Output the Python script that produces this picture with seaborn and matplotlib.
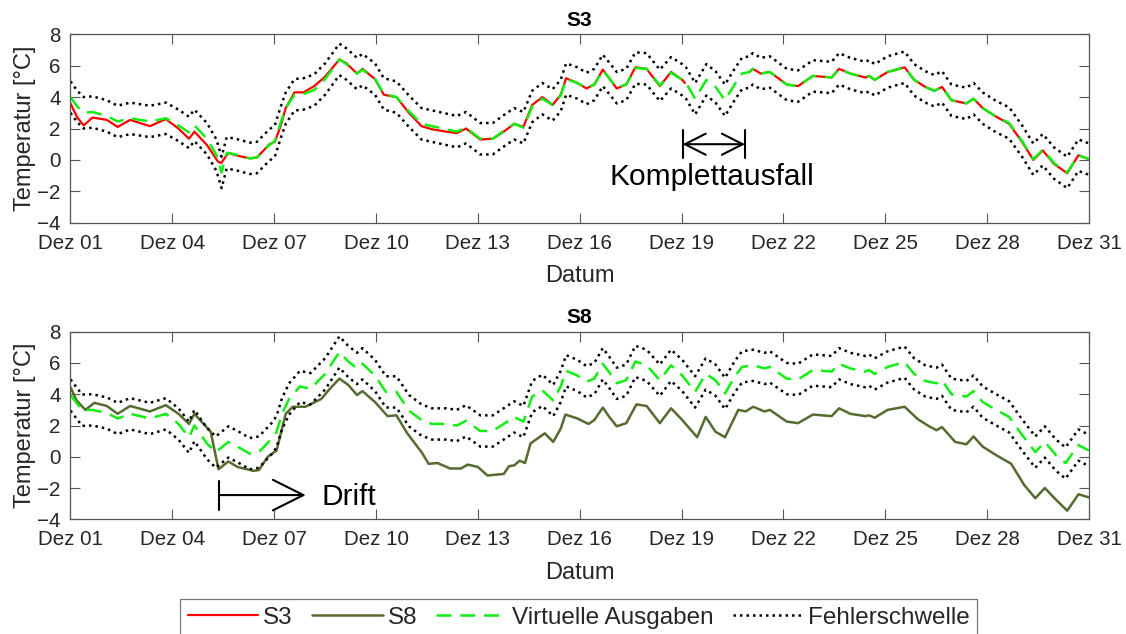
import numpy as np
import pandas as pd
import matplotlib
matplotlib.use("Agg")
import matplotlib.pyplot as plt
import matplotlib.dates as mdates
import seaborn as sns

# Tage im Dezember als Dezimalzahl (1.0 = Dez 01 00:00)
# S3 gemessen, Luecke = Komplettausfall
s3_tage_a = [1.0, 1.2, 1.39, 1.65, 2.07, 2.39, 2.76, 3.34, 3.81, 4.18, 4.49, 4.65, 5.02, 5.34,
             5.44, 5.65, 5.86, 6.28, 6.49, 6.86, 7.02, 7.18, 7.34, 7.6, 7.86, 8.18, 8.5, 8.92,
             9.13, 9.44, 9.6, 9.97, 10.23, 10.6, 10.97, 11.34, 11.65, 12.07, 12.38, 12.65, 13.07,
             13.44, 13.76, 14.07, 14.34, 14.6, 14.9, 15.2, 15.44, 15.6, 15.93, 16.2, 16.43, 16.68,
             16.87, 17.09, 17.37, 17.64, 17.97, 18.36, 18.69, 19.02, 19.1]
s3_werte_a = [3.6, 2.7, 2.2, 2.7, 2.55, 2.1, 2.55, 2.15, 2.6, 2.0, 1.35, 1.8, 0.95, -0.1,
              -0.2, 0.45, 0.3, 0.1, 0.15, 1.0, 1.15, 2.1, 3.3, 4.3, 4.3, 4.7, 5.3, 6.4,
              6.15, 5.5, 5.8, 5.15, 4.15, 4.0, 3.0, 2.15, 1.95, 1.8, 1.7, 2.0, 1.3,
              1.35, 1.8, 2.3, 2.1, 3.5, 4.0, 3.5, 4.15, 5.2, 4.9, 4.55, 4.8, 5.75,
              5.2, 4.55, 4.8, 5.9, 5.8, 4.7, 5.6, 5.1, 4.9]
s3_tage_b = [21.0, 21.1, 21.33, 21.6, 22.1, 22.43, 22.87, 23.42, 23.64, 23.97, 24.41, 24.52,
             24.69, 25.07, 25.57, 25.85, 26.18, 26.45, 26.67, 26.95, 27.39, 27.6, 27.87, 28.27,
             28.65, 29.03, 29.36, 29.64, 29.97, 30.36, 30.69, 31.0]
s3_werte_b = [5.6, 5.8, 5.5, 5.6, 4.8, 4.7, 5.35, 5.25, 5.8, 5.5, 5.25, 5.35,
              5.1, 5.6, 5.9, 5.1, 4.65, 4.4, 4.65, 3.8, 3.6, 3.9, 3.3, 2.75,
              2.3, 1.15, 0.0, 0.6, -0.25, -0.85, 0.3, 0.05]

# virtuelle Ausgabe fuer S3
virt_s3_tage = [1.0, 1.2, 1.39, 1.65, 2.07, 2.39, 2.76, 3.34, 3.81, 4.18, 4.49, 4.65, 5.02, 5.3,
                5.45, 5.6, 5.86, 6.28, 6.49, 6.86, 7.02, 7.18, 7.34, 7.6, 7.86, 8.18, 8.5, 8.92,
                9.13, 9.44, 9.6, 9.97, 10.23, 10.6, 10.97, 11.34, 11.65, 12.07, 12.38, 12.65,
                13.07, 13.44, 13.76, 14.07, 14.34, 14.6, 14.9, 15.2, 15.44, 15.6, 15.93, 16.2,
                16.43, 16.68, 16.87, 17.09, 17.37, 17.64, 17.97, 18.36, 18.69, 19.02, 19.13,
                19.4, 19.73, 20.0, 20.28, 20.56, 20.78, 21.0, 21.1, 21.33, 21.6, 22.1, 22.43,
                22.87, 23.42, 23.64, 23.97, 24.41, 24.52, 24.69, 25.07, 25.57, 25.85, 26.18,
                26.45, 26.67, 26.95, 27.39, 27.6, 27.87, 28.27, 28.65, 29.03, 29.36, 29.64,
                29.97, 30.36, 30.69, 31.0]
virt_s3_werte = [4.0, 3.4, 3.0, 3.05, 2.8, 2.45, 2.65, 2.45, 2.65, 2.2, 1.75, 2.2, 1.35, 0.3,
                 -0.8, 0.45, 0.35, 0.1, 0.15, 0.95, 1.2, 2.3, 3.3, 4.15, 4.2, 4.45, 5.15, 6.4,
                 6.1, 5.5, 5.75, 5.15, 4.2, 4.0, 3.1, 2.3, 2.15, 1.95, 1.8, 2.05,
                 1.35, 1.35, 1.85, 2.3, 2.05, 3.4, 3.9, 3.5, 4.1, 5.15, 4.9, 4.55,
                 4.8, 5.7, 5.2, 4.6, 4.8, 5.85, 5.8, 4.75, 5.55, 5.1, 4.9,
                 3.9, 5.1, 4.65, 3.8, 4.8, 5.5, 5.6, 5.8, 5.5, 5.6, 4.8, 4.7,
                 5.35, 5.25, 5.8, 5.5, 5.25, 5.35, 5.1, 5.6, 5.9, 5.1, 4.65,
                 4.4, 4.65, 3.8, 3.6, 3.9, 3.3, 2.75, 2.35, 1.2, 0.05, 0.65,
                 -0.2, -0.8, 0.3, 0.05]

# S8 gemessen (mit Drift)
s8_tage = [1.0, 1.18, 1.44, 1.7, 2.07, 2.39, 2.76, 3.34, 3.81, 4.18, 4.49, 4.65, 5.13, 5.36,
           5.65, 5.92, 6.39, 6.55, 6.81, 7.07, 7.34, 7.55, 7.92, 8.39, 8.6, 8.92, 9.18, 9.44,
           9.6, 9.97, 10.34, 10.6, 10.92, 11.34, 11.55, 11.81, 12.18, 12.5, 12.7, 13.0, 13.28,
           13.76, 13.92, 14.07, 14.23, 14.39, 14.55, 14.97, 15.22, 15.44, 15.58, 15.93, 16.26,
           16.43, 16.68, 16.87, 17.09, 17.37, 17.67, 17.97, 18.36, 18.69, 19.02, 19.46, 19.71,
           20.0, 20.28, 20.67, 20.89, 21.11, 21.44, 21.6, 22.1, 22.43, 22.87, 23.42, 23.64,
           23.97, 24.41, 24.52, 24.69, 25.07, 25.57, 25.96, 26.29, 26.51, 26.67, 27.06, 27.39,
           27.6, 27.87, 28.27, 28.71, 29.09, 29.42, 29.7, 30.03, 30.36, 30.69, 31.0]
s8_werte = [4.45, 3.6, 3.0, 3.45, 3.25, 2.75, 3.25, 2.9, 3.3, 2.75, 2.1, 2.75, 1.6, -0.8,
            -0.3, -0.65, -0.9, -0.85, 0.0, 0.4, 2.75, 3.2, 3.2, 3.7, 4.25, 5.0, 4.6, 3.95,
            4.2, 3.5, 2.6, 2.65, 1.5, 0.3, -0.45, -0.4, -0.75, -0.75, -0.5, -0.65, -1.2,
            -1.1, -0.6, -0.55, -0.25, -0.4, 0.85, 1.5, 0.95, 1.8, 2.7, 2.45, 2.1,
            2.35, 3.15, 2.55, 1.95, 2.15, 3.35, 3.25, 2.15, 3.1, 2.35, 1.25, 2.55,
            1.6, 1.25, 3.0, 2.9, 3.2, 2.9, 3.0, 2.25, 2.15, 2.7, 2.6, 3.1,
            2.75, 2.6, 2.65, 2.5, 3.0, 3.2, 2.4, 1.95, 1.7, 1.9, 0.95, 0.8,
            1.3, 0.65, 0.1, -0.45, -1.8, -2.65, -2.0, -2.75, -3.45, -2.4, -2.6]

# virtuelle Ausgabe fuer S8
virt_s8_tage = [1.0, 1.34, 1.65, 2.07, 2.39, 2.76, 3.34, 3.81, 4.18, 4.49, 4.65, 5.02, 5.28,
                5.65, 5.92, 6.28, 6.55, 6.92, 7.07, 7.23, 7.44, 7.76, 8.07, 8.5, 8.92, 9.18,
                9.44, 9.6, 9.97, 10.29, 10.6, 10.97, 11.34, 11.65, 12.07, 12.38, 12.65, 13.07,
                13.44, 13.76, 14.07, 14.34, 14.6, 14.9, 15.22, 15.44, 15.6, 15.93, 16.2, 16.43,
                16.68, 16.87, 17.09, 17.37, 17.64, 17.97, 18.36, 18.69, 19.02, 19.4, 19.71,
                20.0, 20.28, 20.56, 20.78, 21.11, 21.44, 21.6, 22.1, 22.43, 22.87, 23.42,
                23.64, 23.97, 24.41, 24.52, 24.69, 25.07, 25.57, 25.85, 26.18, 26.51, 26.67,
                26.95, 27.39, 27.6, 27.87, 28.27, 28.65, 29.03, 29.42, 29.7, 30.03, 30.31,
                30.69, 31.0]
virt_s8_werte = [3.95, 2.98, 3.0, 2.8, 2.45, 2.75, 2.45, 2.75, 2.1, 1.25, 2.0, 0.85, 0.3,
                 0.95, 0.65, 0.2, 0.3, 1.15, 1.6, 2.75, 3.7, 4.5, 4.35, 5.3, 6.7, 6.1,
                 5.65, 5.95, 5.2, 4.15, 4.15, 2.95, 2.35, 2.1, 2.1, 2.0, 2.3, 1.65,
                 1.65, 2.1, 2.55, 2.25, 3.85, 4.25, 3.6, 4.5, 5.5, 5.2, 4.8, 5.0,
                 5.95, 5.4, 4.7, 4.9, 6.1, 5.85, 4.9, 5.85, 5.2, 4.15, 5.3,
                 4.9, 4.05, 5.1, 5.75, 5.85, 5.65, 5.75, 5.0, 4.95, 5.55, 5.45,
                 5.95, 5.65, 5.45, 5.55, 5.3, 5.75, 6.05, 5.3, 4.85, 4.7, 4.9,
                 4.0, 3.85, 4.2, 3.5, 3.0, 2.55, 1.4, 0.3, 0.95, 0.1, -0.4,
                 0.75, 0.4]

# Fehlerschwelle: virtuelle Ausgabe +/- 1 K
schwelle = 1.0

tick_tage = list(range(1, 32, 3))
y_ticks = [-4, -2, 0, 2, 4, 6, 8]

farbe_s3 = "#ff0000"
farbe_s8 = "#566b2f"
farbe_virt = "#11ee11"
farbe_achse = "#555555"
farbe_text = "#262626"

basis = pd.Timestamp("2020-12-01")


def zeit(tage):
    return basis + pd.to_timedelta(np.asarray(tage, dtype=float) - 1.0, unit="D")


def xnum(tag):
    return mdates.date2num(basis + pd.Timedelta(days=tag - 1.0))


sns.set_style("ticks")
plt.rcParams["font.family"] = ["Liberation Sans", "DejaVu Sans"]

fig = plt.figure(figsize=(11.26, 6.34), dpi=100)
ax1 = fig.add_axes([0.0626, 0.6487, 0.9045, 0.2972])
ax2 = fig.add_axes([0.0626, 0.1809, 0.9045, 0.2959])

dash_virt = (0, (6, 3.5))
dot_schwelle = (0, (1, 1.6))


def zeichne_virtuell(ax, tage, werte):
    werte = np.asarray(werte)
    t = zeit(tage)
    for band in (werte + schwelle, werte - schwelle):
        sns.lineplot(x=t, y=band, ax=ax, color="black", linewidth=1.8,
                     linestyle=dot_schwelle, estimator=None, sort=False)
    sns.lineplot(x=t, y=werte, ax=ax, color=farbe_virt, linewidth=1.8,
                 linestyle=dash_virt, estimator=None, sort=False)


# oberer Plot: S3
sns.lineplot(x=zeit(s3_tage_a), y=s3_werte_a, ax=ax1, color=farbe_s3, linewidth=1.6,
             estimator=None, sort=False)
sns.lineplot(x=zeit(s3_tage_b), y=s3_werte_b, ax=ax1, color=farbe_s3, linewidth=1.6,
             estimator=None, sort=False)
zeichne_virtuell(ax1, virt_s3_tage, virt_s3_werte)

# unterer Plot: S8
sns.lineplot(x=zeit(s8_tage), y=s8_werte, ax=ax2, color=farbe_s8, linewidth=1.8,
             estimator=None, sort=False)
zeichne_virtuell(ax2, virt_s8_tage, virt_s8_werte)

for ax, titel in ((ax1, "S3"), (ax2, "S8")):
    ax.set_xlim(zeit([1.0])[0], zeit([31.0])[0])
    ax.set_ylim(-4, 8)
    ax.set_yticks(y_ticks)
    ax.set_xticks(zeit(tick_tage))
    ax.xaxis.set_major_formatter(mdates.DateFormatter("Dez %d"))
    ax.tick_params(direction="in", top=True, right=True, length=7, width=0.8,
                   color=farbe_achse, labelcolor=farbe_text, labelsize=14.8)
    ax.tick_params(axis="x", pad=8)
    ax.tick_params(axis="y", pad=7)
    for sp in ax.spines.values():
        sp.set_visible(True)
        sp.set_color(farbe_achse)
        sp.set_linewidth(0.9)
    ax.set_xlabel("Datum", fontsize=17, color=farbe_text, labelpad=9)
    ax.set_ylabel("Temperatur [°C]", fontsize=17, color=farbe_text, labelpad=1)
    ax.set_title(titel, fontsize=15, fontweight="bold", color="black", pad=6)

# Annotation Komplettausfall
y_pfeil = 1.0
ax1.annotate("", xy=(xnum(20.87), y_pfeil), xytext=(xnum(19.03), y_pfeil),
             arrowprops=dict(arrowstyle="<->,head_length=0.75,head_width=0.38",
                             mutation_scale=20, lw=1.5, color="black",
                             shrinkA=0, shrinkB=0))
for tag in (19.03, 20.87):
    ax1.plot([xnum(tag), xnum(tag)], [0.11, 1.9], color="black", lw=1.5)
ax1.text(xnum(19.89), -1.6, "Komplettausfall", fontsize=21.5, ha="center",
         va="baseline", color="black")

# Annotation Drift
ax2.annotate("", xy=(xnum(7.93), -2.45), xytext=(xnum(5.37), -2.45),
             arrowprops=dict(arrowstyle="->,head_length=1.1,head_width=0.55",
                             mutation_scale=20, lw=1.5, color="black",
                             shrinkA=0, shrinkB=0))
ax2.plot([xnum(5.37), xnum(5.37)], [-1.53, -3.4], color="black", lw=1.5)
ax2.text(xnum(8.40), -3.09, "Drift", fontsize=21.5, ha="left", va="baseline",
         color="black")

# gemeinsame Legende
h_s3 = ax1.get_lines()[0]
h_s8 = ax2.get_lines()[0]
h_virt = ax2.get_lines()[3]
h_schw = ax2.get_lines()[1]
leg = fig.legend([h_s3, h_s8, h_virt, h_schw],
                 ["S3", "S8", "Virtuelle Ausgaben", "Fehlerschwelle"],
                 loc="lower center", bbox_to_anchor=(0.514, -0.003), ncol=4,
                 frameon=True, fancybox=False, edgecolor=farbe_achse,
                 handlelength=2.9, handletextpad=0.2, columnspacing=0.8,
                 borderpad=0.3, borderaxespad=0.0,
                 prop={"family": "Liberation Sans", "size": 17.5})
leg.get_frame().set_linewidth(0.9)

fig.savefig("out.png", dpi=100)
